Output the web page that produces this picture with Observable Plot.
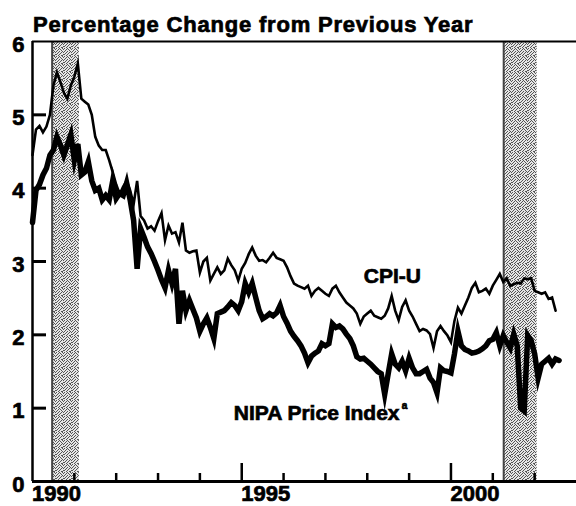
<!DOCTYPE html>
<html><head><meta charset="utf-8">
<script src="https://cdn.jsdelivr.net/npm/d3@7"></script>
<script src="https://cdn.jsdelivr.net/npm/@observablehq/plot@0.6"></script>
<style>
html,body{margin:0;padding:0;background:#fff;}
#wrap{position:relative;width:576px;height:506px;overflow:hidden;}
#wrap svg{position:absolute;left:0;top:0;}
#wrap svg text{stroke:#000;stroke-width:0.7px;}
#title{position:absolute;left:33px;top:14px;font:bold 22px "Liberation Sans",Arial,sans-serif;letter-spacing:0.8px;line-height:22px;white-space:nowrap;color:#000;-webkit-text-stroke:0.7px #000;}
</style></head><body>
<div id="wrap"><div id="title">Percentage Change from Previous Year</div></div>
<script>
// ---- data (monthly, starting January 1990) ----
const startYear = 1990;
const cpiU = [4.45,4.80,4.85,4.76,4.84,5.00,5.40,5.58,5.45,5.30,5.22,5.40,5.52,5.70,5.22,5.18,5.14,5.00,4.70,4.58,
 4.52,4.52,4.38,4.22,4.05,3.92,4.02,4.10,3.97,3.78,4.10,3.62,3.56,3.45,3.48,3.42,3.55,3.66,3.29,3.49,
 3.38,3.40,3.26,3.53,3.15,3.12,3.14,3.15,2.85,3.00,3.05,2.74,2.83,2.92,2.83,2.88,3.04,2.95,2.88,2.74,
 2.90,2.98,3.10,3.19,3.08,3.01,3.02,2.99,3.05,3.12,3.05,3.03,3.01,2.92,2.80,2.70,2.67,2.65,2.63,2.67,
 2.53,2.60,2.64,2.60,2.56,2.53,2.63,2.67,2.58,2.51,2.44,2.40,2.36,2.29,2.15,2.25,2.29,2.33,2.26,2.24,
 2.22,2.26,2.36,2.53,2.33,2.20,2.38,2.47,2.33,2.25,2.15,2.05,2.08,2.06,2.01,1.82,2.05,2.12,2.05,1.99,
 1.90,2.19,2.37,2.29,2.40,2.51,2.64,2.71,2.58,2.60,2.63,2.56,2.67,2.75,2.83,2.72,2.77,2.67,2.69,2.71,
 2.70,2.77,2.76,2.77,2.60,2.58,2.56,2.58,2.49,2.51,2.33];
const nipaPriceIndex = [3.53,3.97,4.05,4.18,4.27,4.45,4.52,4.70,4.59,4.45,4.59,4.73,4.38,4.60,4.18,4.22,4.36,4.10,3.97,4.00,
 3.84,3.90,3.84,4.10,3.86,3.93,3.90,4.07,3.84,3.56,2.90,3.45,3.33,3.20,3.11,3.00,2.88,2.75,2.64,2.88,
 2.70,2.90,2.15,2.60,2.33,2.47,2.35,2.23,2.05,2.15,2.23,2.10,1.95,2.29,2.31,2.33,2.38,2.44,2.40,2.33,
 2.45,2.70,2.58,2.70,2.51,2.33,2.22,2.25,2.29,2.26,2.30,2.40,2.25,2.16,2.05,1.98,1.92,1.85,1.75,1.62,
 1.71,1.75,1.78,1.88,1.85,1.88,2.15,2.10,2.12,2.08,2.01,1.95,1.85,1.70,1.67,1.68,1.64,1.60,1.55,1.50,
 1.47,1.19,1.47,1.74,1.60,1.55,1.64,1.51,1.68,1.55,1.47,1.47,1.50,1.53,1.41,1.35,1.21,1.55,1.51,1.50,
 1.48,1.74,2.05,1.85,1.80,1.78,1.75,1.76,1.78,1.81,1.85,1.92,1.94,2.03,1.85,1.99,1.90,1.82,2.01,1.85,
 1.00,0.96,1.99,1.92,1.74,1.41,1.60,1.64,1.68,1.60,1.67,1.65];
const recessionStarts = [1990.47, 2001.26];
const recessionEnds = [1991.12, 2002.06];
const yTickValues = [0, 1, 2, 3, 4, 5, 6];
const xLabelYears = [1990, 1995, 2000];
const minorTickYears = [1991, 1992, 1993, 1994, 1996, 1997, 1998, 1999, 2001, 2002];
const majorTickYears = [1995, 2000];
const cpiLabel = {text: "CPI-U", t: 1998.6, v: 2.80};
const nipaLabel = {text: "NIPA Price Index", t: 1996.79, v: 0.93};

// ---- chart ----
const W = 576, H = 506, mL = 32, mR = 0, mT = 41, mB = 25;
const innerW = W - mL - mR, innerH = H - mT - mB;
const rows = vals => vals.map((v, i) => ({t: startYear + i / 12, v}));
const recessions = recessionStarts.map((s, i) => ({start: s, end: recessionEnds[i]}));
const font = "Liberation Sans, Arial, sans-serif";

const svg = Plot.plot({
  width: W, height: H,
  marginLeft: mL, marginRight: mR, marginTop: mT, marginBottom: mB,
  style: {fontFamily: font, background: "white", color: "black"},
  x: {domain: [1990, 2003]},
  y: {domain: [0, 6]},
  marks: [
    Plot.rect(recessions, {x1: "start", x2: "end", fill: "url(#stipple)"}),
    Plot.ruleX(recessions, {x: "start", stroke: "#444", strokeWidth: 2}),
    Plot.line(rows(cpiU), {x: "t", y: "v", stroke: "black", strokeWidth: 2.6, strokeLinejoin: "miter", strokeMiterlimit: 6}),
    Plot.line(rows(nipaPriceIndex), {x: "t", y: "v", stroke: "black", strokeWidth: 5.5, strokeLinejoin: "miter", strokeMiterlimit: 6}),
    Plot.ruleX([1990], {strokeWidth: 2.5}),
    Plot.ruleY([6], {strokeWidth: 2}),
    Plot.ruleY([0], {strokeWidth: 3}),
    Plot.tickY(yTickValues.filter(v => v > 0 && v < 6), {y: d => d, strokeWidth: 3, insetRight: innerW - 14}),
    Plot.tickX(minorTickYears, {x: d => d, strokeWidth: 2.5, insetTop: innerH - 8}),
    Plot.tickX(majorTickYears, {x: d => d, strokeWidth: 2.5, insetTop: innerH - 18}),
    Plot.axisY({ticks: yTickValues, tickSize: 0, tickPadding: 8, dy: 3, fontSize: 22, fontWeight: "bold", tickFormat: d => String(d), label: null}),
    Plot.axisX({ticks: xLabelYears, tickSize: 0, tickPadding: 4, dx: 24, fontSize: 22, fontWeight: "bold", tickFormat: d => String(d), label: null}),
    Plot.text([cpiLabel], {x: "t", y: "v", text: "text", fontSize: 21, fontWeight: "bold", textAnchor: "middle"}),
    Plot.text([nipaLabel], {x: "t", y: "v", text: "text", fontSize: 21, fontWeight: "bold", textAnchor: "middle"}),
    Plot.text([nipaLabel], {x: "t", y: "v", text: () => "a", fontSize: 10, fontWeight: "bold", textAnchor: "start", dx: 85, dy: -8})
  ]
});

// stipple texture for the recession bands
const tile = ["10010010","00101001","01000100","10010010","00100101","01001000","10010001","00100110"];
const defs = d3.select(svg).insert("defs", ":first-child");
const pat = defs.append("pattern").attr("id", "stipple").attr("patternUnits", "userSpaceOnUse")
  .attr("width", 8).attr("height", 8);
pat.append("rect").attr("width", 8).attr("height", 8).attr("fill", "#e6e6e6");
tile.forEach((row, r) => row.split("").forEach((c, k) => {
  if (c === "1") pat.append("rect").attr("x", k).attr("y", r).attr("width", 1).attr("height", 1).attr("fill", "#555");
}));

document.getElementById("wrap").insertBefore(svg, document.getElementById("title"));
</script>
</body></html>
